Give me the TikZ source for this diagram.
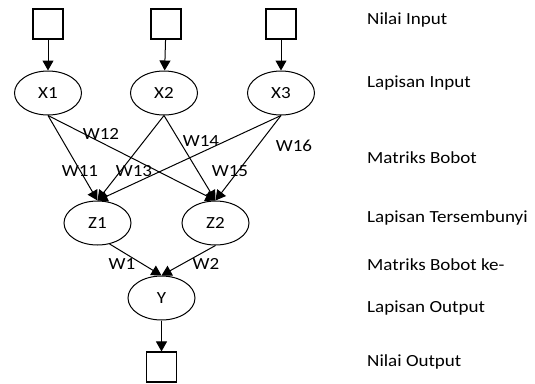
\documentclass[tikz,border=0pt]{standalone}
\usepackage{fontspec}
\setmainfont{Carlito}[FakeStretch=1.12]
\usetikzlibrary{arrows.meta,shapes.geometric}
\tikzset{
  valbox/.style={draw, line width=1.1pt, minimum size=30pt, inner sep=0pt},
  neuron/.style={draw, ellipse, line width=1pt, minimum width=67pt, minimum height=44pt, inner sep=0pt, font=\fontsize{17}{19}\selectfont},
  link/.style={line width=1pt, -{Triangle[length=10pt,width=11pt]}},
  wlabel/.style={font=\fontsize{17}{19}\selectfont, inner sep=0pt},
  sidelabel/.style={anchor=west, font=\fontsize{17}{19}\selectfont, inner sep=0pt}
}
\begin{document}
\begin{tikzpicture}[x=1pt,y=-1pt]
\useasboundingbox (0,0) rectangle (535,383);
% input values
\node[valbox] (i1) at (48,24) {};
\node[valbox] (i2) at (166,24) {};
\node[valbox] (i3) at (281,24) {};
% input layer
\node[neuron] (x1) at (48,93) {X1};
\node[neuron] (x2) at (164,93) {X2};
\node[neuron] (x3) at (281,93) {X3};
% hidden layer
\node[neuron] (z1) at (97.5,223) {Z1};
\node[neuron] (z2) at (215.5,223) {Z2};
% output layer
\node[neuron] (y) at (161.5,298) {Y};
\node[valbox] (o) at (161.5,367) {};
% connections
\draw[link] (i1) -- (x1);
\draw[link] (i2) -- (x2);
\draw[link] (i3) -- (x3);
\foreach \s in {x1,x2,x3}{
  \draw[link] (\s.south) -- (z1.north);
  \draw[link] (\s.south) -- (z2.north);
}
\draw[link] (z1.-60) -- (y.north);
\draw[link] (z2.south) -- (y.north);
\draw[link] (y) -- (o);
% weights
\node[wlabel] at (101,134) {W12};
\node[wlabel] at (201,141) {W14};
\node[wlabel] at (294,146) {W16};
\node[wlabel] at (80,171) {W11};
\node[wlabel] at (134,171) {W13};
\node[wlabel] at (230,171) {W15};
\node[wlabel] at (122,264) {W1};
\node[wlabel] at (206,264) {W2};
% layer names
\node[sidelabel] at (367,20) {Nilai Input};
\node[sidelabel] at (367,83) {Lapisan Input};
\node[sidelabel] at (367,158) {Matriks Bobot};
\node[sidelabel] at (367,218) {Lapisan Tersembunyi};
\node[sidelabel] at (367,265) {Matriks Bobot ke-};
\node[sidelabel] at (367,308) {Lapisan Output};
\node[sidelabel] at (367,362) {Nilai Output};
\end{tikzpicture}
\end{document}
